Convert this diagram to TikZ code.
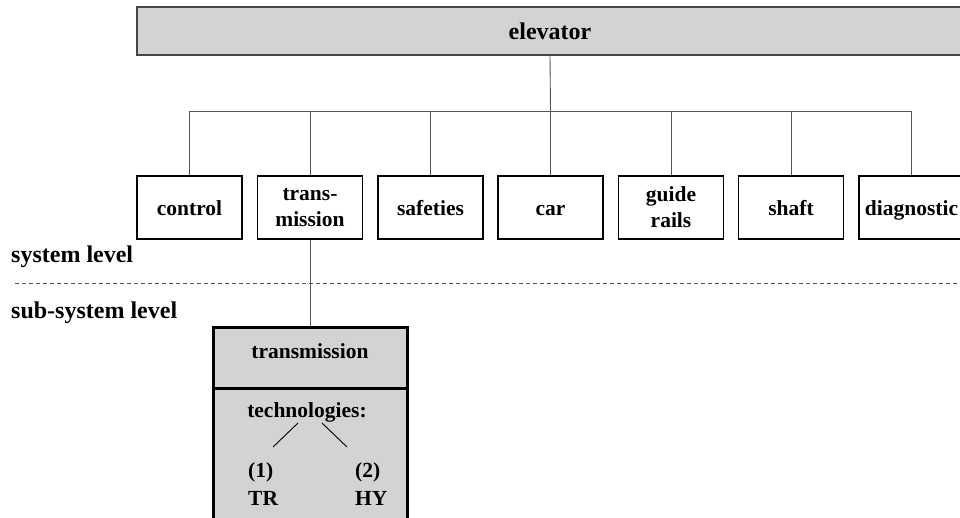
\documentclass[tikz,border=0pt]{standalone}
\usepackage{fontspec}
\setmainfont{Liberation Serif}
\definecolor{boxgray}{RGB}{210,211,213}
\definecolor{rimgray}{RGB}{70,70,70}
\definecolor{linegray}{RGB}{85,85,85}
\begin{document}
\begin{tikzpicture}[x=1pt,y=-1pt,
  every node/.style={font=\fontsize{21.5}{26}\selectfont\bfseries, inner sep=0pt},
  big/.style={font=\fontsize{24}{28}\selectfont\bfseries},
  rootbox/.style={big, draw=rimgray, line width=2pt, fill=boxgray,
    minimum width=826pt, minimum height=48pt},
  unit/.style={draw=black, line width=1.2pt, fill=white, align=center,
    minimum width=105pt, minimum height=63pt},
  oneline/.style={unit, text height=17pt, text depth=0pt},
  subbox/.style={draw=black, line width=3pt, fill=boxgray, minimum width=194pt},
  link/.style={draw=linegray, line width=0.9pt},
  levelsep/.style={draw=linegray, line width=0.8pt, dash pattern=on 4pt off 3pt},
  lvl/.style={anchor=base west},
  bigl/.style={big, anchor=base west}]
\useasboundingbox (0,0) rectangle (960,518);
\clip (0,0) rectangle (960,518);

% top of the hierarchy
\node[rootbox] (elev) at (550,31) {elevator};

% system units
\node[oneline] (control) at (189.5,207.5) {control};
\node[unit]    (trans)   at (310,207.5)   {trans-\\mission};
\node[oneline] (safe)    at (430.5,207.5) {safeties};
\node[oneline] (car)     at (550.5,207.5) {car};
\node[unit]    (guide)   at (671,207.5)   {guide\\rails};
\node[oneline] (shaft)   at (791,207.5)   {shaft};
\node[oneline] (diag)    at (911.5,207.5) {diagnostic};

% tree connectors
\coordinate (bus) at (550.5,111);
\draw[link] (elev.south) -- (bus);
\foreach \u in {control,trans,safe,car,guide,shaft,diag}
  \draw[link] (\u.north) |- (bus);

% level labels and separator
\node[bigl] (syslvl) at (11,263) {system level};
\node[bigl] (sublvl) at (11,319) {sub-system level};
\coordinate (sepL) at (15,283);
\coordinate (sepR) at (960,283);
\draw[levelsep] (sepL) -- (sepR);

% sub-system block
\node[subbox, minimum height=152pt] (subbody) at (310,464) {};
\node[subbox, minimum height=61pt] (subhead) at (310,357.5) {};
\node[anchor=base] (subname) at (310,358) {transmission};
\draw[link] (trans.south) -- (subhead.north);

% technology variants
\node[anchor=base] (tech) at (307,417) {technologies:};
\node[lvl] (n1) at (248,477) {(1)};
\node[lvl] (tr) at (248,505) {TR};
\node[lvl] (n2) at (355,477) {(2)};
\node[lvl] (hy) at (355,505) {HY};
\coordinate (tA) at (298,423);
\coordinate (tB) at (273,447);
\coordinate (tC) at (322,423);
\coordinate (tD) at (347,447);
\draw[draw=black, line width=0.9pt] (tA) -- (tB);
\draw[draw=black, line width=0.9pt] (tC) -- (tD);
\end{tikzpicture}
\end{document}
